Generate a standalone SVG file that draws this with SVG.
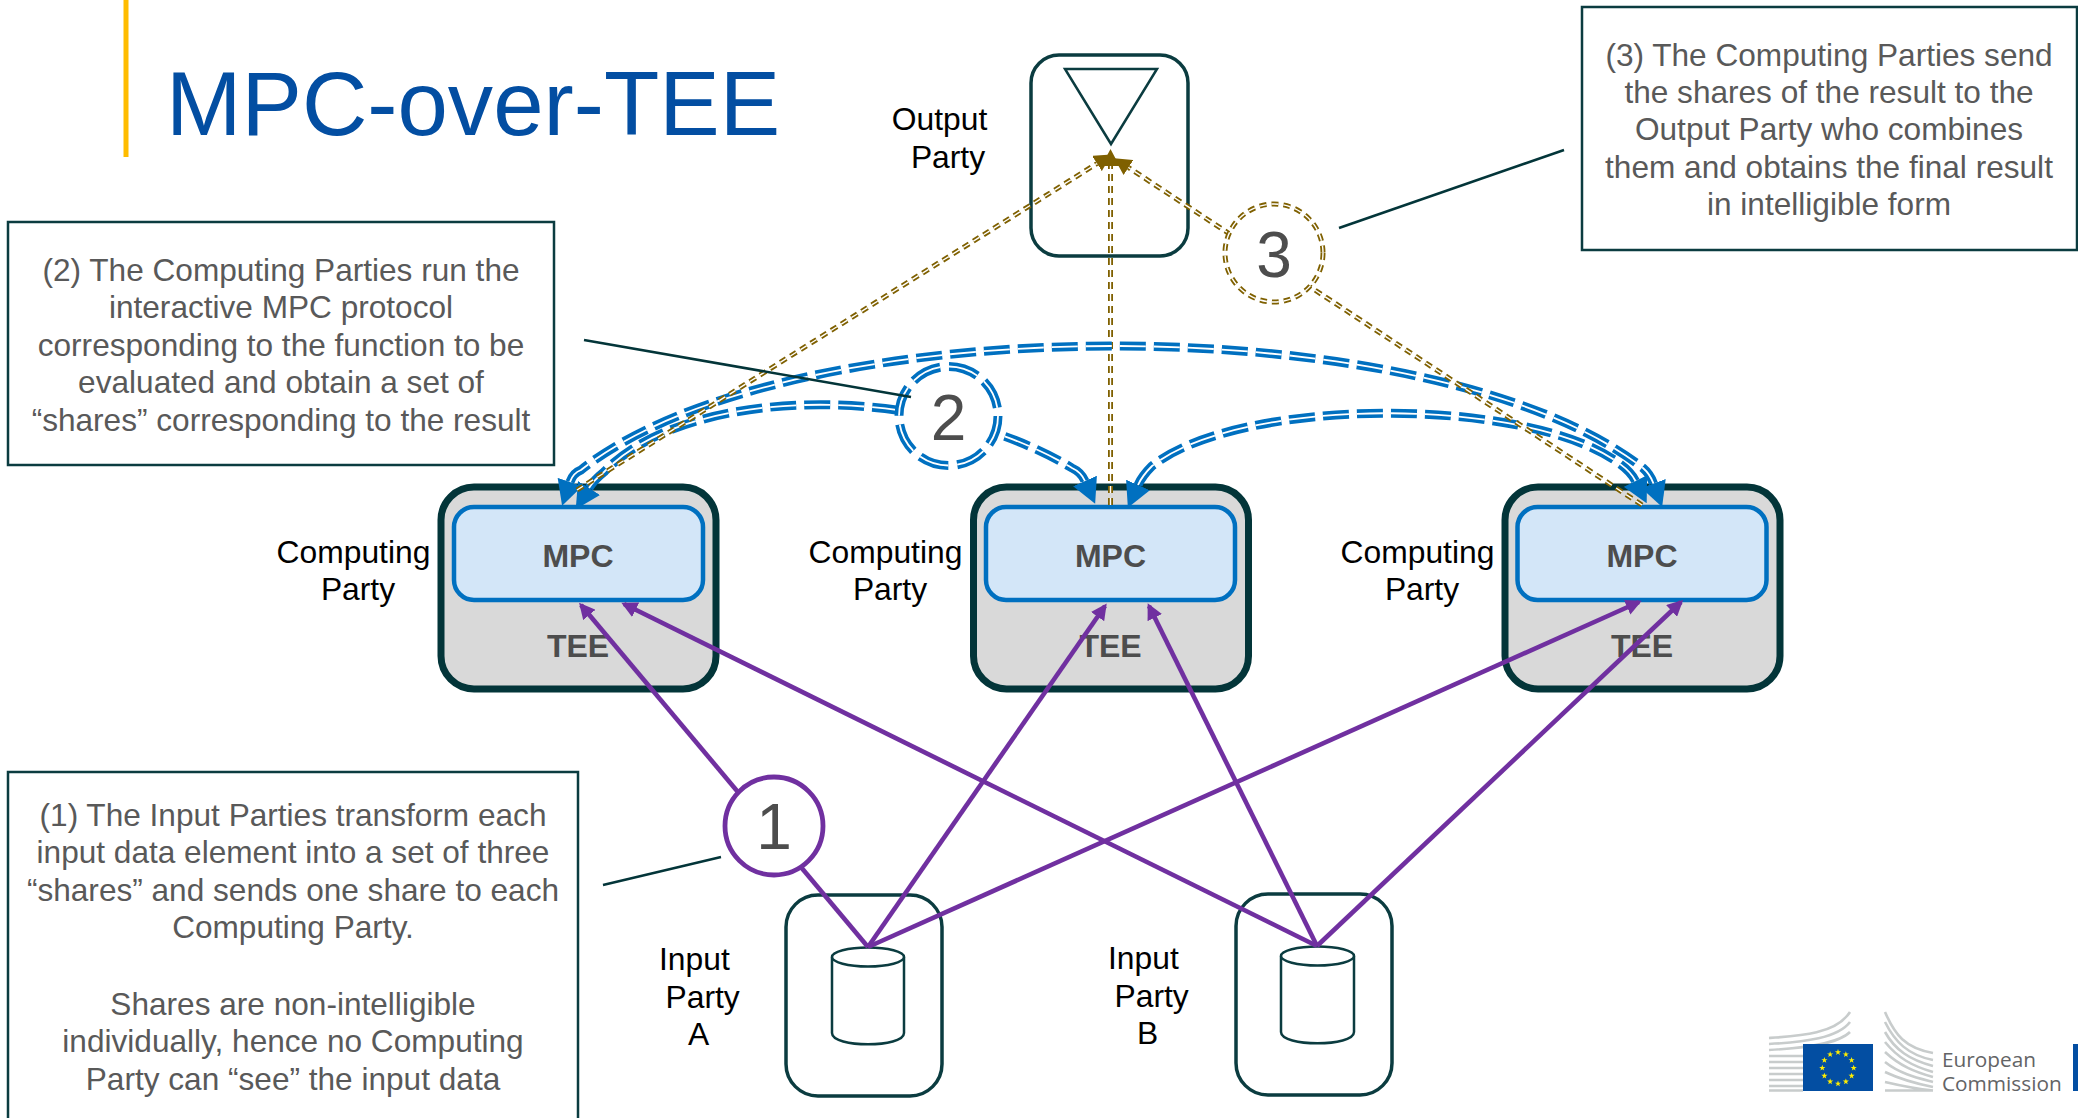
<svg xmlns="http://www.w3.org/2000/svg" xmlns:xlink="http://www.w3.org/1999/xlink" width="2078" height="1118" viewBox="0 0 2078 1118">
<style>
text{font-family:"Liberation Sans",Arial,sans-serif}
.call{font-size:31.6px;fill:#595959;text-anchor:middle}
.lab{font-size:31.8px;fill:#000}
.mid{text-anchor:middle}
.bold{font-size:32px;font-weight:700;fill:#4d4d4d;text-anchor:middle}
.num{font-size:64px;fill:#4d4d4d;text-anchor:middle}
.box{fill:#fff;stroke:#0b3c40;stroke-width:2.5}
.party{fill:#fff;stroke:#0b3c40;stroke-width:3.5}
.tee{fill:#d9d9d9;stroke:#033539;stroke-width:7}
.mpc{fill:#d3e6f8;stroke:#0070c0;stroke-width:4.5}
.thin{fill:#fff;stroke:#0b3c40;stroke-width:2.5}
.purple{fill:none;stroke:#7030a0;stroke-width:4.6}
.blue{fill:none;stroke:#0070c0;stroke-width:9;stroke-dasharray:26 8}
.blueC{fill:none;stroke:#fff;stroke-width:1.8;stroke-dasharray:26 8}
.brown{fill:none;stroke:#7f6000;stroke-width:5;stroke-dasharray:7 5}
.brownC{fill:none;stroke:#fff;stroke-width:1.4;stroke-dasharray:7 5}
.leader{fill:none;stroke:#033539;stroke-width:2.5}
.bld{fill:none;stroke:#c8cccc;stroke-width:2.6}
.ec{font-family:"Open Sans",sans-serif;font-size:20.8px;fill:#636466}
</style>
<defs>
<marker id="hp" markerUnits="userSpaceOnUse" markerWidth="16" markerHeight="16" refX="13" refY="8" orient="auto"><path d="M0 0L16 8L0 16Z" fill="#7030a0"/></marker>
<marker id="hb" markerUnits="userSpaceOnUse" markerWidth="25" markerHeight="26" refX="0" refY="13" orient="auto-start-reverse"><path d="M0 0L25 13L0 26Z" fill="#0070c0"/></marker>
<marker id="hm" markerUnits="userSpaceOnUse" markerWidth="17" markerHeight="18" refX="0" refY="9" orient="auto"><path d="M0 0L17 9L0 18Z" fill="#7f6000"/></marker>
<path id="star" d="M0 -3.2L.8 -1L3.1 -1L1.2 .4L1.9 2.6L0 1.3L-1.9 2.6L-1.2 .4L-3.1 -1L-.8 -1Z" fill="#ffed00"/>
</defs>
<rect width="2078" height="1118" fill="#fff"/>
<g id="title">
<rect x="123.500" y="0" width="5" height="157" fill="#ffbc00"/>
<text x="166" y="135" font-size="90.600" fill="#034ea2">MPC-over-TEE</text>
</g>
<g id="callout-3">
<rect class="box" x="1582" y="7" width="495" height="243"/>
<text class="call"><tspan x="1829" y="66">(3) The Computing Parties send</tspan><tspan x="1829" y="103">the shares of the result to the</tspan><tspan x="1829" y="140">Output Party who combines</tspan><tspan x="1829" y="178">them and obtains the final result</tspan><tspan x="1829" y="215">in intelligible form</tspan></text>
</g>
<g id="callout-2">
<rect class="box" x="8" y="222" width="546" height="243"/>
<text class="call"><tspan x="281" y="281">(2) The Computing Parties run the</tspan><tspan x="281" y="318">interactive MPC protocol</tspan><tspan x="281" y="356">corresponding to the function to be</tspan><tspan x="281" y="393">evaluated and obtain a set of</tspan><tspan x="281" y="431">“shares” corresponding to the result</tspan></text>
</g>
<g id="callout-1">
<rect class="box" x="8" y="772" width="570" height="360"/>
<text class="call"><tspan x="293" y="826">(1) The Input Parties transform each</tspan><tspan x="293" y="863">input data element into a set of three</tspan><tspan x="293" y="901">“shares” and sends one share to each</tspan><tspan x="293" y="938">Computing Party.</tspan><tspan x="293" y="1015">Shares are non-intelligible</tspan><tspan x="293" y="1052">individually, hence no Computing</tspan><tspan x="293" y="1090">Party can “see” the input data</tspan></text>
</g>
<g id="output-party">
<rect class="party" x="1031" y="55" width="157" height="201" rx="28"/>
<path class="thin" d="M1065 69H1157L1111 144Z"/>
<text class="lab mid" x="939.500" y="130">Output</text>
<text class="lab mid" x="948" y="168">Party</text>
</g>
<g id="computing-party-1">
<rect class="tee" x="441" y="487" width="275" height="202" rx="33"/>
<rect class="mpc" x="454" y="507" width="249" height="93" rx="20"/>
<text class="bold" x="578" y="567">MPC</text>
<text class="bold" x="578" y="657">TEE</text>
<text class="lab mid" x="353.500" y="563">Computing</text>
<text class="lab mid" x="358" y="600">Party</text>
</g>
<g id="computing-party-2">
<rect class="tee" x="973.500" y="487" width="275" height="202" rx="33"/>
<rect class="mpc" x="986" y="507" width="249" height="93" rx="20"/>
<text class="bold" x="1110.500" y="567">MPC</text>
<text class="bold" x="1110.500" y="657">TEE</text>
<text class="lab mid" x="885.500" y="563">Computing</text>
<text class="lab mid" x="890" y="600">Party</text>
</g>
<g id="computing-party-3">
<rect class="tee" x="1505" y="487" width="275" height="202" rx="33"/>
<rect class="mpc" x="1517.500" y="507" width="249" height="93" rx="20"/>
<text class="bold" x="1642" y="567">MPC</text>
<text class="bold" x="1642" y="657">TEE</text>
<text class="lab mid" x="1417.500" y="563">Computing</text>
<text class="lab mid" x="1422" y="600">Party</text>
</g>
<g id="input-party-a">
<rect class="party" x="786" y="895" width="156" height="201" rx="32"/>
<path class="thin" d="M832 957V1033C832 1048 904 1048 904 1033V957"/>
<ellipse class="thin" cx="868" cy="957" rx="36" ry="9.500"/>
<text class="lab" x="659" y="970">Input</text>
<text class="lab" x="665.500" y="1008">Party</text>
<text class="lab" x="688" y="1045">A</text>
</g>
<g id="input-party-b">
<rect class="party" x="1236" y="894" width="156" height="201" rx="32"/>
<path class="thin" d="M1281 956V1032C1281 1047 1354 1047 1354 1032V956"/>
<ellipse class="thin" cx="1317.500" cy="956" rx="36.500" ry="9.500"/>
<text class="lab" x="1108" y="969">Input</text>
<text class="lab" x="1114.500" y="1007">Party</text>
<text class="lab" x="1137" y="1044">B</text>
</g>
<g id="connectors">
<g id="share-input">
<path class="purple" marker-end="url(#hp)" d="M868 947L581 605"/>
<path class="purple" marker-end="url(#hp)" d="M868 947L1105 606"/>
<path class="purple" marker-end="url(#hp)" d="M868 947L1639 602"/>
<path class="purple" marker-end="url(#hp)" d="M1317 946L624 604"/>
<path class="purple" marker-end="url(#hp)" d="M1317 946L1149 606"/>
<path class="purple" marker-end="url(#hp)" d="M1317 946L1681 602"/>
</g>
<g id="result-center">
<path class="brown" marker-end="url(#hm)" d="M1110.500 505V166"/>
<path class="brownC" d="M1110.500 505V166"/>
</g>
<g id="mpc-top">
<path class="blue" marker-start="url(#hb)" marker-end="url(#hb)" d="M570 482Q573 473 581 470C790 305 1434 305 1643 468Q1650 474 1653.500 483.500"/>
<path class="blueC" d="M570 482Q573 473 581 470C790 305 1434 305 1643 468Q1650 474 1653.500 483.500"/>
</g>
<g id="mpc-left">
<path class="blue" marker-start="url(#hb)" marker-end="url(#hb)" d="M589 488Q594 480 604 472C690 383 930 383 1072 468Q1081 472 1085 481"/>
<path class="blueC" d="M589 488Q594 480 604 472C690 383 930 383 1072 468Q1081 472 1085 481"/>
</g>
<g id="mpc-right">
<path class="blue" marker-start="url(#hb)" marker-end="url(#hb)" d="M1138 485Q1142 476 1152 466C1240 396 1530 396 1620 464Q1631 472 1635.500 481"/>
<path class="blueC" d="M1138 485Q1142 476 1152 466C1240 396 1530 396 1620 464Q1631 472 1635.500 481"/>
</g>
<g id="result-left">
<path class="brown" marker-end="url(#hm)" d="M577 490L1097 163.500"/>
<path class="brownC" d="M577 490L1097 163.500"/>
</g>
<g id="result-right">
<path class="brown" marker-end="url(#hm)" d="M1642 505L1128.500 167.500"/>
<path class="brownC" d="M1642 505L1128.500 167.500"/>
</g>
</g>
<g id="step-1">
<circle cx="774" cy="826" r="49" fill="#fff" stroke="#7030a0" stroke-width="4.800"/>
<text class="num" x="774" y="849">1</text>
</g>
<g id="step-2">
<circle cx="948.500" cy="416" r="49.500" fill="#fff"/>
<circle class="blue" style="stroke-dasharray:30 8.900" cx="948.500" cy="416" r="49.500"/>
<circle class="blueC" style="stroke-dasharray:30 8.900" cx="948.500" cy="416" r="49.500"/>
<text class="num" x="948.500" y="440">2</text>
</g>
<g id="step-3">
<circle cx="1274" cy="253" r="49" fill="#fff"/>
<circle class="brown" cx="1274" cy="253" r="49"/>
<circle class="brownC" cx="1274" cy="253" r="49"/>
<text class="num" x="1274" y="277">3</text>
</g>
<g id="leaders">
<path class="leader" d="M1339 228L1564 150"/>
<path class="leader" d="M584 340L911 397"/>
<path class="leader" d="M603 885L721 857"/>
</g>
<g id="ec-logo">
<path class="bld" d="M1769 1038C1800 1036 1836 1034 1850 1012M1769 1044C1805 1042 1838 1038 1850 1022M1769 1050C1805 1048 1838 1044 1850 1032M1769 1056H1850M1769 1062H1803M1769 1068H1803M1769 1074H1803M1769 1080H1803M1769 1086H1803M1769 1090.500H1803"/>
<path class="bld" d="M1885 1012C1895 1035 1905 1048 1933 1053M1885 1022C1895 1042 1908 1055 1933 1060M1885 1032C1895 1050 1910 1060 1933 1066M1885 1042C1898 1058 1912 1066 1933 1072M1885 1052C1900 1066 1915 1072 1933 1077M1885 1062C1900 1074 1918 1078 1933 1082M1885 1072C1902 1080 1918 1084 1933 1087M1885 1082C1902 1086 1918 1089 1933 1090.500M1885 1090.500H1933"/>
<rect x="1803" y="1044" width="70" height="47" fill="#034ea2"/>
<use href="#star" x="1838" y="1052.300"/>
<use href="#star" x="1845.850" y="1054.400"/>
<use href="#star" x="1851.600" y="1060.150"/>
<use href="#star" x="1853.700" y="1068"/>
<use href="#star" x="1851.600" y="1075.850"/>
<use href="#star" x="1845.850" y="1081.600"/>
<use href="#star" x="1838" y="1083.700"/>
<use href="#star" x="1830.150" y="1081.600"/>
<use href="#star" x="1824.400" y="1075.850"/>
<use href="#star" x="1822.300" y="1068"/>
<use href="#star" x="1824.400" y="1060.150"/>
<use href="#star" x="1830.150" y="1054.400"/>
<text class="ec" x="1942" y="1067">European</text>
<text class="ec" x="1942" y="1091">Commission</text>
<rect x="2073" y="1044" width="5" height="47" fill="#034ea2"/>
</g>
</svg>
